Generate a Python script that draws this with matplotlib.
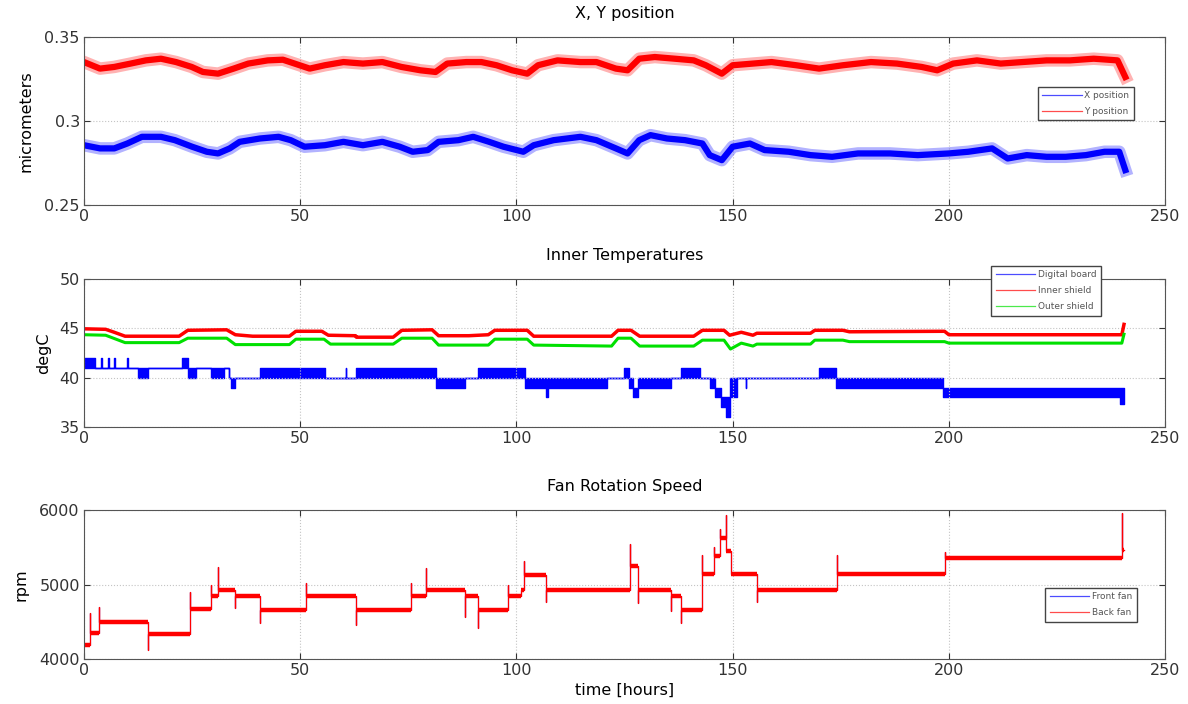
import numpy as np
import matplotlib
matplotlib.use("Agg")
import matplotlib.pyplot as plt

plt.rcParams['font.family'] = ['DejaVu Sans']

# --- X, Y position (micrometers), centre of the noisy trace ---
x_hours = [0, 3.7, 7, 10, 13.4, 17.8, 21, 25, 28.4, 31, 33.7, 36, 40.7, 45, 47.8, 51,
           55.7, 60, 64.5, 69, 73, 76, 79.5, 82, 86.6, 90, 93.7, 97, 101.6, 104, 108.6,
           114.8, 118.5, 123, 125.7, 128.4, 131, 134.8, 139, 143, 144.7, 147.5, 150, 154,
           157.4, 163, 168, 173, 179, 186.4, 192.8, 200, 204.5, 210, 213.6, 218, 222.6,
           227, 231.7, 236, 239.4, 240.8]
x_pos = [0.2856, 0.2837, 0.2837, 0.2866, 0.2906, 0.2906, 0.2886, 0.2847, 0.2817, 0.2807,
         0.2837, 0.2876, 0.2896, 0.2906, 0.2886, 0.2847, 0.2856, 0.2876, 0.2856, 0.2876,
         0.2847, 0.2817, 0.2827, 0.2876, 0.2886, 0.2906, 0.2876, 0.2847, 0.2817, 0.2856,
         0.2886, 0.2906, 0.2886, 0.2837, 0.2807, 0.2886, 0.2916, 0.2896, 0.2886, 0.2866,
         0.2797, 0.2767, 0.2847, 0.2866, 0.2827, 0.2817, 0.2797, 0.2787, 0.2807, 0.2807,
         0.2797, 0.2807, 0.2817, 0.2837, 0.2777, 0.2797, 0.2787, 0.2787, 0.2797, 0.2817,
         0.2817, 0.2708]

y_hours = [0, 3.7, 7, 10.8, 14.3, 17.8, 21.3, 24.9, 27.5, 31, 34.6, 38, 42.5, 46, 48.7,
           52.2, 55.7, 60, 64.5, 69, 73.4, 77.8, 81.3, 84, 88.4, 91.9, 95.4, 99, 102.5,
           105, 109.5, 114.8, 118.5, 123, 125.7, 128.4, 132, 136.6, 141, 143.8, 147.5, 150,
           154.7, 159, 164.7, 170, 175.5, 182, 188, 193.7, 197.3, 201, 206.5, 212, 217,
           222.6, 228, 233.5, 239, 240.8]
y_pos = [0.3351, 0.3312, 0.3322, 0.3342, 0.3361, 0.3371, 0.3351, 0.3322, 0.3292, 0.3282,
         0.3312, 0.3342, 0.3361, 0.3365, 0.3342, 0.3312, 0.3332, 0.3351, 0.3342, 0.3351,
         0.3322, 0.3302, 0.3292, 0.3342, 0.3351, 0.3351, 0.3332, 0.3302, 0.3282, 0.3332,
         0.3361, 0.3351, 0.3351, 0.3312, 0.3302, 0.3371, 0.3381, 0.3371, 0.3361, 0.3332,
         0.3282, 0.3332, 0.3342, 0.3351, 0.3332, 0.3312, 0.3332, 0.3351, 0.3342, 0.3322,
         0.3302, 0.3342, 0.3361, 0.3342, 0.3351, 0.3361, 0.3361, 0.3371, 0.3361, 0.3262]

# --- Inner temperatures (degC) ---
inner_hours = [0, 5, 7, 9.5, 22, 24, 33, 35, 39, 47.5, 49, 55, 56.5, 62.8, 63, 71.5, 73.5,
               80.5, 82, 89, 93.5, 95, 102.5, 104, 122, 123.5, 126.5, 128.5, 141, 143, 148,
               149.3, 152, 154.7, 155.6, 168, 169, 175.5, 177, 199, 200, 240, 240.5]
inner_shield = [44.95, 44.9, 44.6, 44.2, 44.2, 44.8, 44.85, 44.35, 44.2, 44.2, 44.7, 44.7,
                44.3, 44.25, 44.1, 44.1, 44.8, 44.85, 44.25, 44.25, 44.35, 44.8, 44.8, 44.2,
                44.2, 44.8, 44.8, 44.2, 44.2, 44.8, 44.8, 44.3, 44.6, 44.3, 44.5, 44.5, 44.8,
                44.8, 44.65, 44.7, 44.35, 44.35, 45.4]

outer_hours = [0, 5, 9.5, 22, 24, 33, 35, 47.5, 49, 55.5, 57, 71.5, 73.5, 80.5, 82, 93.5,
               95, 102.5, 104, 122, 123.5, 126.5, 128.5, 141, 143, 148, 149.5, 152, 154.7,
               155.6, 168, 169, 175.5, 177, 199, 200, 240, 240.5]
outer_shield = [44.35, 44.3, 43.55, 43.55, 44.0, 44.0, 43.35, 43.35, 43.9, 43.9, 43.4, 43.4,
                44.0, 44.0, 43.3, 43.3, 43.9, 43.9, 43.3, 43.2, 44.0, 44.0, 43.2, 43.2, 43.8,
                43.8, 42.9, 43.5, 43.2, 43.4, 43.4, 43.8, 43.8, 43.65, 43.65, 43.5, 43.5, 44.4]

# digital board sensor toggles between 1 degC steps: low/high level per interval
dig_edges = [0, 2.5, 4, 4.2, 5.5, 5.7, 7, 7.2, 10, 10.2, 12.5, 14.7, 22.7, 24, 26, 29.3,
             32.4, 33.5, 34, 35, 40.7, 55.7, 60.5, 60.7, 62.8, 81.3, 88, 91, 102, 106.8,
             107.2, 121, 124.8, 126, 127, 128.2, 135.7, 138, 142.5, 144.7, 146, 147.3,
             148.4, 149.3, 151, 153, 153.2, 155.6, 170, 174, 198.6, 239.5, 240.5]
dig_low = [41, 41, 41, 41, 41, 41, 41, 41, 41, 41, 40, 41, 41, 40, 41, 40, 41, 40, 39, 40,
           40, 40, 40, 40, 40, 39, 40, 40, 39, 38, 39, 40, 40, 39, 38, 39, 40, 40, 40, 39,
           38, 37, 36, 38, 40, 39, 40, 40, 40, 39, 38, 37.3]
dig_high = [42, 41, 42, 41, 42, 41, 42, 41, 42, 41, 41, 41, 42, 41, 41, 41, 41, 40, 40, 40,
            41, 40, 41, 40, 41, 40, 40, 41, 40, 40, 40, 40, 41, 40, 39, 40, 40, 41, 40, 40,
            39, 38, 38, 40, 40, 40, 40, 40, 41, 40, 39, 39]

# --- Fan rotation speed (rpm): level intervals and the overshoot at each switch ---
fan_edges = [0, 1.5, 3.5, 14.7, 24.4, 29.3, 31, 35, 40.7, 51.3, 62.8, 75.6, 79, 88, 91, 98,
             101, 101.8, 106.9, 126.2, 128, 135.7, 138, 143, 145.7, 147, 148.4, 149.7,
             155.6, 174.2, 199, 240, 240.5]
fan_levels = [4190, 4350, 4500, 4330, 4670, 4840, 4930, 4840, 4660, 4840, 4660, 4840, 4930,
              4840, 4660, 4840, 4930, 5130, 4930, 5250, 4930, 4840, 4660, 5140, 5380, 5620,
              5450, 5140, 4930, 5140, 5350, 5460]
fan_spikes = [4620, 4700, 4120, 4900, 5000, 5230, 4680, 4480, 5020, 4450, 5020, 5220, 4570,
              4420, 5000, 4930, 5320, 4760, 5550, 4750, 4640, 4480, 5400, 5500, 5750, 5930,
              5300, 4770, 5400, 5440, 5960]

FS = 11.5


def fan_trace(edges, levels, spikes):
    xs, ys = [], []
    for i, lvl in enumerate(levels):
        xs += [edges[i], edges[i + 1]]
        ys += [lvl, lvl]
        if i < len(spikes):
            xs += [edges[i + 1], edges[i + 1]]
            ys += [spikes[i], levels[i + 1]]
    return xs, ys


def style_axes(ax, yticks, ylim, ylabel, title, ypad):
    ax.set_xlim(0, 250)
    ax.set_ylim(*ylim)
    ax.set_xticks(range(0, 251, 50))
    ax.set_yticks(yticks)
    ax.tick_params(direction='in', top=True, right=True, labelsize=FS, length=4,
                   colors='#333333', width=0.8, pad=3)
    ax.grid(True, linestyle=':', color='#c4c4c4', linewidth=0.8)
    for sp in ax.spines.values():
        sp.set_color('#555555')
        sp.set_linewidth(0.8)
    ax.set_ylabel(ylabel, fontsize=FS, labelpad=ypad)
    ax.set_title(title, fontsize=FS, pad=14)


def add_legend(ax, anchor):
    leg = ax.legend(loc='upper left', bbox_to_anchor=anchor, fontsize=6.5,
                    handlelength=4.4, handletextpad=0.3, borderpad=0.5, labelspacing=0.75,
                    borderaxespad=0, fancybox=False, edgecolor='#444444', framealpha=1)
    for h in leg.get_lines():
        h.set_linewidth(0.9)
        h.set_alpha(0.7)
    for t in leg.get_texts():
        t.set_color('#555555')
    return leg


fig = plt.figure(figsize=(11.88, 7.04), dpi=100)
ax1 = fig.add_axes([0.0707, 0.7088, 0.9100, 0.2386])
ax2 = fig.add_axes([0.0707, 0.3935, 0.9100, 0.2102])
ax3 = fig.add_axes([0.0707, 0.0639, 0.9100, 0.2116])

# positions: a soft halo around a solid core stands in for the sample noise
for hrs, vals, c, name in [(x_hours, x_pos, 'b', 'X position'), (y_hours, y_pos, 'r', 'Y position')]:
    ax1.plot(hrs, vals, color=c, linewidth=9, alpha=0.3, solid_joinstyle='round')
    ax1.plot(hrs, vals, color=c, linewidth=4.5, solid_joinstyle='round', label=name)
style_axes(ax1, [0.25, 0.3, 0.35], (0.25, 0.35), 'micrometers', 'X, Y position', 8)
ax1.set_yticklabels(['0.25', '0.3', '0.35'])
add_legend(ax1, (0.882, 0.705))

# temperatures
ax2.fill_between(dig_edges, dig_low + [dig_low[-1]], dig_high + [dig_high[-1]], step='post',
                 facecolor='b', edgecolor='b', linewidth=1)
ax2.plot([], [], color='b', label='Digital board')
ax2.plot(inner_hours, inner_shield, color='r', linewidth=2.5, label='Inner shield')
ax2.plot(outer_hours, outer_shield, color='#00e000', linewidth=2.2, label='Outer shield')
style_axes(ax2, [35, 40, 45, 50], (35, 50), 'degC', 'Inner Temperatures', 6)
add_legend(ax2, (0.839, 1.088))

# fans: thin trace for the switching transients, heavy strokes on the settled levels
fx, fy = fan_trace(fan_edges, fan_levels, fan_spikes)
ax3.plot(fx, fy, color='b', linewidth=0.8, label='Front fan')
ax3.plot(fx, fy, color='r', linewidth=0.9, label='Back fan')
ax3.hlines(fan_levels, fan_edges[:-1], fan_edges[1:], color='r', linewidth=3.2)
style_axes(ax3, [4000, 5000, 6000], (4000, 6000), 'rpm', 'Fan Rotation Speed', 8)
ax3.set_xlabel('time [hours]', fontsize=FS, labelpad=3)
add_legend(ax3, (0.889, 0.477))

fig.savefig('out.png', dpi=100)
